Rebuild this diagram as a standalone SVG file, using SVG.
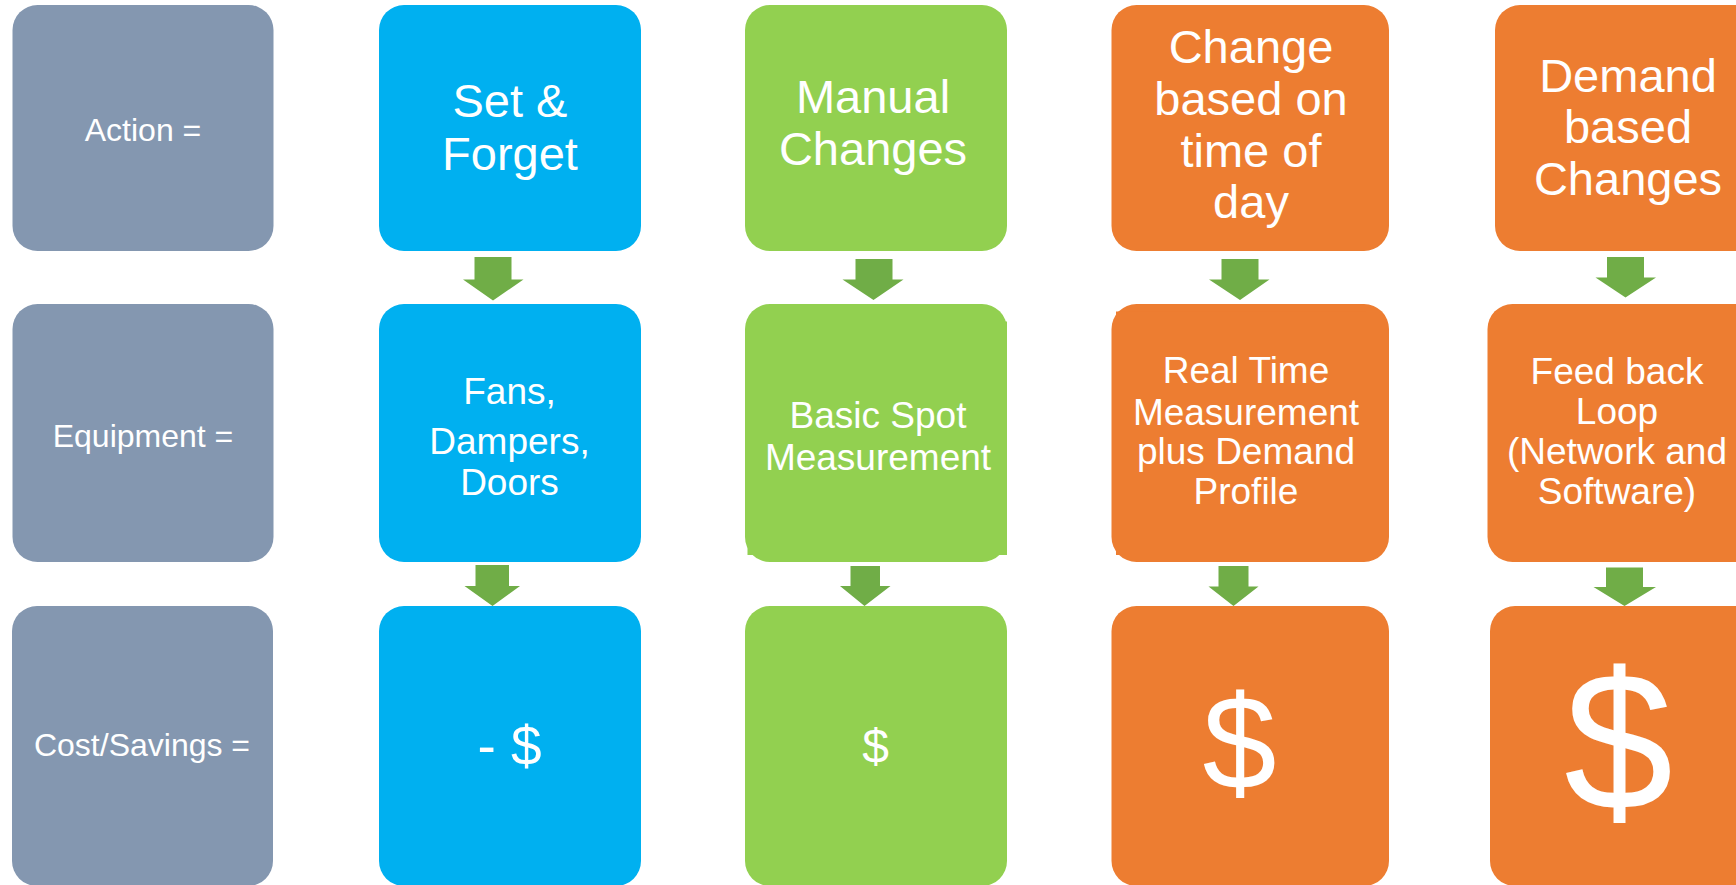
<svg xmlns="http://www.w3.org/2000/svg" width="1736" height="885" viewBox="0 0 1736 885">
<style>
.t{font-family:"Liberation Sans",Arial,sans-serif;fill:#ffffff;text-anchor:middle}
.gray{fill:#8497B0}
.blue{fill:#00B0F0}
.green{fill:#92D050}
.orange{fill:#ED7D31}
.arr{fill:#70AD47}
</style>
<rect width="1736" height="885" fill="#ffffff"/>
<g id="label-action"><rect class="gray" x="12.5" y="5" width="261" height="246" rx="25"/><text class="t" x="143" y="141" font-size="32">Action =</text></g>
<g id="label-equipment"><rect class="gray" x="12.5" y="304" width="261" height="258" rx="25"/><text class="t" x="143" y="447" font-size="32">Equipment =</text></g>
<g id="label-cost"><rect class="gray" x="12" y="606" width="261" height="280" rx="25"/><text class="t" x="142" y="756" font-size="32">Cost/Savings =</text></g>

<g id="set-forget"><rect class="blue" x="379" y="5" width="262" height="246" rx="25"/><text class="t" x="510" y="117" font-size="47">Set &amp;</text><text class="t" x="510" y="170" font-size="47">Forget</text></g>
<g id="fans"><rect class="blue" x="379" y="304" width="262" height="258" rx="25"/><text class="t" x="509.5" y="404" font-size="37">Fans,</text><text class="t" x="509.5" y="454" font-size="37">Dampers,</text><text class="t" x="509.5" y="495" font-size="37">Doors</text></g>
<g id="cost-blue"><rect class="blue" x="379" y="606" width="262" height="280" rx="25"/><text class="t" x="509.5" y="765" font-size="55">- $</text></g>

<g id="manual"><rect class="green" x="745" y="5" width="262" height="246" rx="25"/><text class="t" x="873" y="113" font-size="47">Manual</text><text class="t" x="873" y="165" font-size="47">Changes</text></g>
<g id="basic-spot"><rect class="green" x="745" y="304" width="262" height="258" rx="25"/><rect class="green" x="747.5" y="321.5" width="259.5" height="233.5"/><text class="t" x="878" y="428" font-size="37">Basic Spot</text><text class="t" x="878" y="470" font-size="37">Measurement</text></g>
<g id="cost-green"><rect class="green" x="745" y="606" width="262" height="280" rx="25"/><text class="t" x="875.5" y="763" font-size="48">$</text></g>

<g id="time-of-day"><rect class="orange" x="1111.5" y="5" width="277.5" height="246" rx="25"/><text class="t" x="1251" y="63" font-size="47">Change</text><text class="t" x="1251" y="115" font-size="47">based on</text><text class="t" x="1251" y="167" font-size="47">time of</text><text class="t" x="1251" y="218" font-size="47">day</text></g>
<g id="real-time"><rect class="orange" x="1111.5" y="304" width="277.5" height="258" rx="25"/><rect class="orange" x="1116" y="311.5" width="250" height="243.5"/><text class="t" x="1246" y="383" font-size="37">Real Time</text><text class="t" x="1246" y="425" font-size="37">Measurement</text><text class="t" x="1246" y="464" font-size="37">plus Demand</text><text class="t" x="1246" y="504" font-size="37">Profile</text></g>
<g id="cost-orange"><rect class="orange" x="1111.5" y="606" width="277.5" height="280" rx="25"/><text class="t" x="1239.5" y="789" font-size="133">$</text></g>

<g id="demand"><rect class="orange" x="1495" y="5" width="270" height="246" rx="25"/><text class="t" x="1628" y="92" font-size="47">Demand</text><text class="t" x="1628" y="143" font-size="47">based</text><text class="t" x="1628" y="195" font-size="47">Changes</text></g>
<g id="feedback"><rect class="orange" x="1487.5" y="304" width="277" height="258" rx="25"/><text class="t" x="1617" y="384" font-size="37">Feed back</text><text class="t" x="1617" y="424" font-size="37">Loop</text><text class="t" x="1617" y="464" font-size="37">(Network and</text><text class="t" x="1617" y="504" font-size="37">Software)</text></g>
<g id="cost-demand"><rect class="orange" x="1490" y="606" width="277" height="280" rx="25"/><text class="t" x="1618.5" y="809" font-size="196">$</text></g>

<g id="connectors">
<polygon class="arr" points="474.5,257 511.5,257 511.5,279.5 523.5,279.5 493,300.5 463,279.5 474.5,279.5"/>
<polygon class="arr" points="855.5,259 892.5,259 892.5,279.5 903.5,279.5 873.5,300 842.5,279.5 855.5,279.5"/>
<polygon class="arr" points="1221.5,259 1258.5,259 1258.5,279.5 1269.5,279.5 1240,300 1209,279.5 1221.5,279.5"/>
<polygon class="arr" points="1607,257 1644,257 1644,277.5 1656,277.5 1625.5,297.5 1595.5,277.5 1607,277.5"/>
<polygon class="arr" points="475.5,565 509,565 509,586 520,586 492.5,606 464.5,586 475.5,586"/>
<polygon class="arr" points="850.5,566 880,566 880,586 890.5,586 864.5,606 840,586 850.5,586"/>
<polygon class="arr" points="1218.5,566 1248.5,566 1248.5,586.5 1258.5,586.5 1233.5,606 1208.5,586.5 1218.5,586.5"/>
<polygon class="arr" points="1606,567.5 1643,567.5 1643,587 1656,587 1624.5,606 1593.5,587 1606,587"/>
</g>
</svg>
